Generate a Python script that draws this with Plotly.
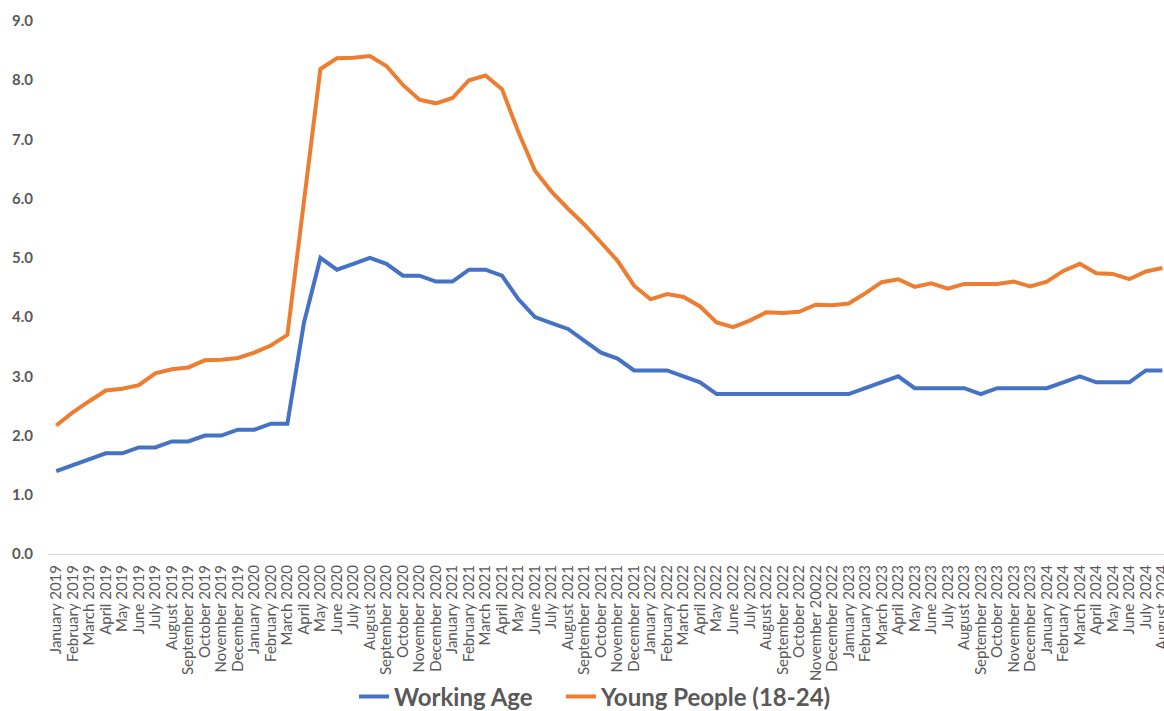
import plotly.graph_objects as go

months = [
    "January 2019", "February 2019", "March 2019", "April 2019", "May 2019", "June 2019",
    "July 2019", "August 2019", "September 2019", "October 2019", "November 2019", "December 2019",
    "January 2020", "February 2020", "March 2020", "April 2020", "May 2020", "June 2020",
    "July 2020", "August 2020", "September 2020", "October 2020", "November 2020", "December 2020",
    "January 2021", "February 2021", "March 2021", "April 2021", "May 2021", "June 2021",
    "July 2021", "August 2021", "September 2021", "October 2021", "November 2021", "December 2021",
    "January 2022", "February 2022", "March 2022", "April 2022", "May 2022", "June 2022",
    "July 2022", "August 2022", "September 2022", "October 2022", "November 20022", "December 2022",
    "Jamuary 2023", "February 2023", "March 2023", "April 2023", "May 2023", "June 2023",
    "July 2023", "August 2023", "September 2023", "October 2023", "November 2023", "December 2023",
    "January 2024", "February 2024", "March 2024", "April 2024", "May 2024", "June 2024",
    "July 2024", "August 2024",
]

working_age = [
    1.4, 1.5, 1.6, 1.7, 1.7, 1.8, 1.8, 1.9, 1.9, 2.0, 2.0, 2.1,
    2.1, 2.2, 2.2, 3.9, 5.0, 4.8, 4.9, 5.0, 4.9, 4.7, 4.7, 4.6,
    4.6, 4.8, 4.8, 4.7, 4.3, 4.0, 3.9, 3.8, 3.6, 3.4, 3.3, 3.1,
    3.1, 3.1, 3.0, 2.9, 2.7, 2.7, 2.7, 2.7, 2.7, 2.7, 2.7, 2.7,
    2.7, 2.8, 2.9, 3.0, 2.8, 2.8, 2.8, 2.8, 2.7, 2.8, 2.8, 2.8,
    2.8, 2.9, 3.0, 2.9, 2.9, 2.9, 3.1, 3.1,
]

young_people = [
    2.17, 2.39, 2.58, 2.76, 2.79, 2.85, 3.05, 3.12, 3.15, 3.27, 3.28, 3.31,
    3.40, 3.52, 3.70, 5.95, 8.19, 8.37, 8.38, 8.41, 8.24, 7.92, 7.67, 7.61,
    7.70, 8.00, 8.08, 7.85, 7.12, 6.47, 6.12, 5.83, 5.56, 5.26, 4.95, 4.53,
    4.30, 4.39, 4.34, 4.18, 3.91, 3.83, 3.94, 4.08, 4.07, 4.09, 4.21, 4.20,
    4.23, 4.40, 4.59, 4.64, 4.51, 4.57, 4.48, 4.56, 4.56, 4.56, 4.60, 4.52,
    4.60, 4.78, 4.90, 4.74, 4.73, 4.64, 4.77, 4.83,
]

y_ticks = [0, 1, 2, 3, 4, 5, 6, 7, 8, 9]

fig = go.Figure()
fig.add_trace(go.Scatter(
    x=months, y=working_age, mode="lines", name="Working Age",
    line=dict(color="#4472C4", width=4), legend="legend",
))
fig.add_trace(go.Scatter(
    x=months, y=young_people, mode="lines", name="Young People (18-24)",
    line=dict(color="#ED7D31", width=4), legend="legend2",
))

legend_font = dict(size=24, color="#595959", family="Lato, sans-serif", weight="bold")

fig.update_layout(
    width=1164, height=711,
    margin=dict(l=48, r=0, t=21, b=157),
    paper_bgcolor="white", plot_bgcolor="white",
    font=dict(family="Lato, 'Open Sans', sans-serif", color="#595959"),
    showlegend=True,
    legend=dict(
        orientation="h", xref="container", yref="container",
        x=354 / 1164, xanchor="left", y=14 / 711, yanchor="middle",
        font=legend_font, itemwidth=30, bgcolor="rgba(0,0,0,0)",
    ),
    legend2=dict(
        orientation="h", xref="container", yref="container",
        x=561 / 1164, xanchor="left", y=14 / 711, yanchor="middle",
        font=legend_font, itemwidth=30, bgcolor="rgba(0,0,0,0)",
    ),
)
fig.update_xaxes(
    type="category", range=[-0.5, 67.1],
    tickmode="array", tickvals=months, ticktext=months,
    tickangle=-90, tickfont=dict(size=15, color="#595959"),
    showgrid=False, showline=True, linecolor="#d9d9d9", linewidth=1,
    ticks="", zeroline=False, automargin=False, ticklabelstandoff=4,
)
fig.update_yaxes(
    range=[0, 9], tickvals=y_ticks, tickformat=".1f",
    tickfont=dict(size=15, color="#595959", weight="bold"),
    showgrid=False, showline=False, zeroline=False, ticks="",
    ticklabelstandoff=14, automargin=False,
)

fig.write_html("out.html")
